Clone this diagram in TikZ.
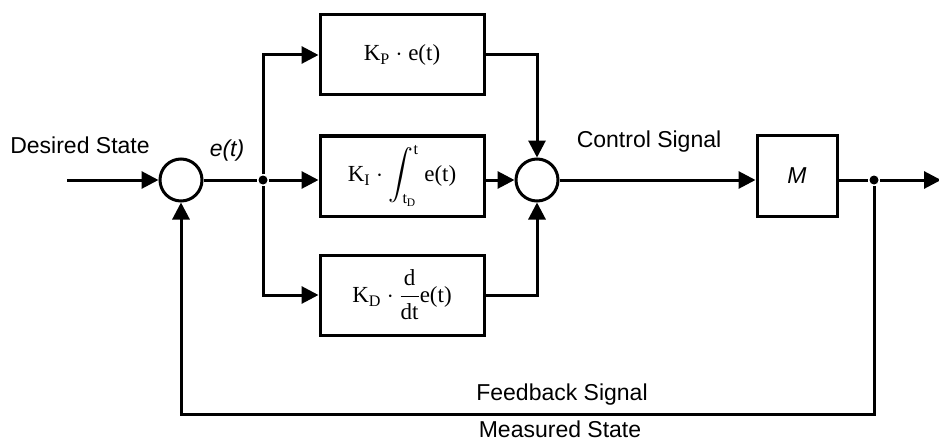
\documentclass[tikz,border=0pt]{standalone}
\usepackage{amsmath}
\usepackage{fontspec}
\setmainfont{Liberation Serif}
\newfontfamily\labelsans{Liberation Sans}
\usetikzlibrary{arrows.meta}
\begin{document}
\begin{tikzpicture}[x=1pt,y=-1pt,
  line width=3pt,
  conn/.style={-{Triangle[length=17pt,width=17pt]}},
  blockbox/.style={draw,rectangle,minimum width=164pt,minimum height=80pt,inner sep=0pt,
    font=\fontsize{23}{27}\selectfont},
  sumcirc/.style={draw,circle,minimum size=42pt,inner sep=0pt},
  junction/.style={fill,circle,minimum size=9pt,inner sep=0pt},
  lbl/.style={font=\labelsans\fontsize{23}{27}\selectfont,inner sep=0pt}]
\useasboundingbox (0,0) rectangle (939,441);
\fill[white] (0,0) rectangle (939,441);

\node[sumcirc] (sum1) at (181,180) {};
\node[sumcirc] (sum2) at (537,180) {};
\node[junction] (br) at (263,180) {};
\node[junction] (out) at (874,180) {};
\coordinate (in) at (67,180);
\coordinate (end) at (941,180);
\coordinate (fb) at (874,414);

\node[blockbox] (bp) at (402,55) {K$_{\mathrm{P}}$ $\cdot$ e(t)};
\node[blockbox] (bi) at (402,176) {K$_{\mathrm{I}}$ $\cdot$ $\displaystyle\int\nolimits_{\mathrm{t_D}}^{\mathrm{t}}$ e(t)};
\node[blockbox] (bd) at (402,295) {K$_{\mathrm{D}}$ $\cdot$ $\dfrac{\mathrm{d}}{\mathrm{dt}}$e(t)};
\node[draw,rectangle,minimum width=80pt,minimum height=81pt,inner sep=0pt,
  font=\labelsans\itshape\fontsize{23}{27}\selectfont] (bm) at (797,176) {M};

\draw[conn] (in) -- (sum1.west);
\draw (sum1.east) -- (br);
\draw[conn] (br) |- (bp.west);
\draw[conn] (br) -- (bi.west |- br);
\draw[conn] (br) |- (bd.west);
\draw[conn] (bp.east) -| (sum2.north);
\draw[conn] (bi.east |- sum2) -- (sum2.west);
\draw[conn] (bd.east) -| (sum2.south);
\draw[conn] (sum2.east) -- (bm.west |- sum2);
\draw (bm.east |- out) -- (out);
\draw[conn] (out) -- (end);
\draw[conn] (out) -- (fb) -| (sum1.south);

\node[lbl] (ds) at (80,145) {Desired State};
\node[lbl,font=\labelsans\itshape\fontsize{23}{27}\selectfont] (et) at (227,151) {e(t)};
\node[lbl] (cs) at (649,142) {Control Signal};
\node[lbl] (fs) at (562,395) {Feedback Signal};
\node[lbl,anchor=base] (ms) at (560,437) {Measured State};
\end{tikzpicture}
\end{document}
